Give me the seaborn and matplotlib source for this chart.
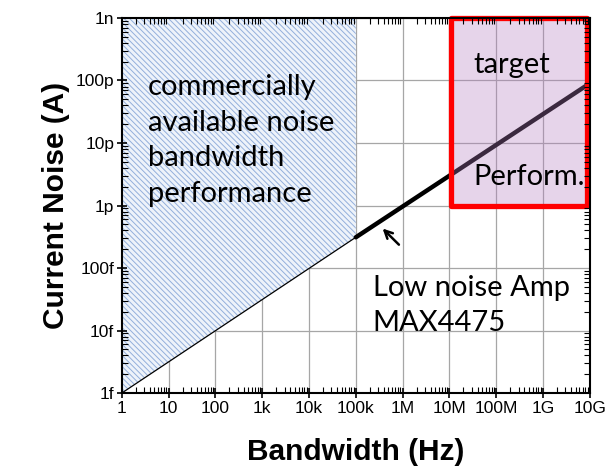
import numpy as np
import pandas as pd
import seaborn as sns
import matplotlib.pyplot as plt
from matplotlib.patches import Rectangle
from matplotlib.ticker import LogLocator, FixedLocator, NullFormatter

# values
bandwidth = [1, 1e5, 1e10]            # Hz
noise = [1e-15, 3.1e-13, 9e-11]       # A, MAX4475 line
x_ticks = [1, 1e1, 1e2, 1e3, 1e4, 1e5, 1e6, 1e7, 1e8, 1e9, 1e10]
x_labels = ["1", "10", "100", "1k", "10k", "100k", "1M", "10M", "100M", "1G", "10G"]
y_ticks = [1e-15, 1e-14, 1e-13, 1e-12, 1e-11, 1e-10, 1e-9]
y_labels = ["1f", "10f", "100f", "1p", "10p", "100p", "1n"]
commercial_bw = [1, 1e5]              # hatched region x-range
target_bw = [1.1e7, 8.8e9]            # red box
target_noise = [1e-12, 1e-9]

sns.set_style("ticks")
plt.rcParams['font.family'] = ['Liberation Sans', 'DejaVu Sans']
plt.rcParams['hatch.linewidth'] = 0.7
plt.rcParams['text.color'] = 'black'
plt.rcParams['axes.labelcolor'] = 'black'

df = pd.DataFrame({"bw": bandwidth, "noise": noise})
df_hi = df[df["bw"] >= 1e5]

fig, ax = plt.subplots(figsize=(6.15, 4.73), dpi=100)
fig.subplots_adjust(left=0.198, right=0.959, top=0.962, bottom=0.169)

ax.set_xscale("log")
ax.set_yscale("log")
ax.set_xlim(1, 1e10)
ax.set_ylim(1e-15, 1e-9)

# grid drawn under everything, axis ticks kept on top
for xv in x_ticks:
    ax.axvline(xv, color="#a6a6a6", lw=0.9, zorder=1)
for yv in y_ticks:
    ax.axhline(yv, color="#a6a6a6", lw=0.9, zorder=1)

# commercially available region (above the line up to 1n)
line_at = np.interp(np.log10(commercial_bw), np.log10(bandwidth), np.log10(noise))
ax.fill_between(commercial_bw, 10 ** line_at, 1e-9, facecolor="#eef3fa",
                edgecolor="#93afdb", hatch="\\\\\\\\\\\\", lw=0, zorder=2)

sns.lineplot(data=df, x="bw", y="noise", color="black", lw=0.9, ax=ax, zorder=3)
sns.lineplot(data=df_hi, x="bw", y="noise", color="black", lw=3.2, ax=ax, zorder=3)

# target box
ax.add_patch(Rectangle((target_bw[0], target_noise[0]), target_bw[1] - target_bw[0],
                       target_noise[1] - target_noise[0], facecolor="#b47ec0", alpha=0.33,
                       edgecolor="none", zorder=4, clip_on=False))
ax.add_patch(Rectangle((target_bw[0], target_noise[0]), target_bw[1] - target_bw[0],
                       target_noise[1] - target_noise[0], facecolor="none", edgecolor="#ff0000",
                       lw=3.8, joinstyle="round", zorder=5, clip_on=False))

ax.xaxis.set_major_locator(FixedLocator(x_ticks))
ax.set_xticklabels(x_labels)
ax.yaxis.set_major_locator(FixedLocator(y_ticks))
ax.set_yticklabels(y_labels)
ax.xaxis.set_minor_locator(LogLocator(base=10, subs=range(2, 10), numticks=30))
ax.yaxis.set_minor_locator(LogLocator(base=10, subs=range(2, 10), numticks=30))
ax.xaxis.set_minor_formatter(NullFormatter())
ax.yaxis.set_minor_formatter(NullFormatter())
ax.tick_params(which="major", direction="inout", length=7, width=1.2, labelsize=12.5,
               colors="black", pad=2)
ax.tick_params(which="minor", direction="in", length=4, width=0.8, colors="black",
               top=True, right=True)
ax.xaxis.set_zorder(6)
ax.yaxis.set_zorder(6)
for s in ax.spines.values():
    s.set_linewidth(1.5)
    s.set_color("black")
    s.set_zorder(6)

ax.set_xlabel("Bandwidth (Hz)", fontsize=21.5, fontweight="bold", labelpad=16)
ax.set_ylabel("Current Noise (A)", fontsize=21.5, fontweight="bold", labelpad=4)

txt = dict(family=["Lato", "DejaVu Sans"], fontsize=21, color="black", zorder=7)
ax.text(0.056, 0.85, "commercially\navailable noise\nbandwidth\nperformance",
        transform=ax.transAxes, va="top", ha="left", linespacing=1.45, **txt)
ax.text(0.536, 0.315, "Low noise Amp\nMAX4475", transform=ax.transAxes,
        va="top", ha="left", linespacing=1.45, **txt)
ax.text(0.752, 0.91, "target", transform=ax.transAxes, va="top", ha="left", **txt)
ax.text(0.752, 0.61, "Perform.", transform=ax.transAxes, va="top", ha="left", **txt)

ax.annotate("", xy=(3.4e5, 4.6e-13), xytext=(9.2e5, 2.2e-13),
            arrowprops=dict(arrowstyle="->", color="black", lw=1.8,
                            mutation_scale=14), zorder=7)

fig.savefig("out.png", dpi=100)
